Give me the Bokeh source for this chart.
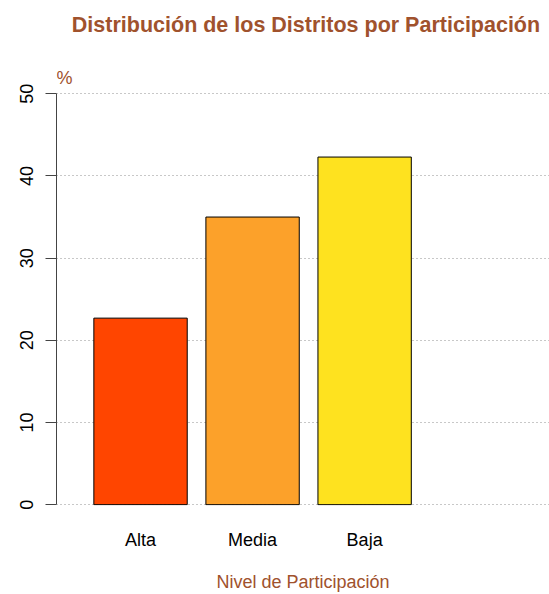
from bokeh.plotting import figure
from bokeh.models import Range1d, FixedTicker, ColumnDataSource, Label
from bokeh.embed import file_html
from bokeh.resources import INLINE

categories = ["Alta", "Media", "Baja"]
values = [22.7, 35.0, 42.3]
colors = ["#FF4500", "#FCA12A", "#FEE21F"]
y_ticks = [0, 10, 20, 30, 40, 50]

SIENNA = "#A0522D"
FONT = "Liberation Sans"

# R barplot positions: width 1, space 0.2
centers = [0.2 + i * 1.2 + 0.5 for i in range(len(categories))]

src = ColumnDataSource(dict(x=centers, top=values, color=colors, cat=categories))

# frame spans the whole top area so title texts can live inside it;
# the y axis line is bounded to 0..50
p = figure(width=549, height=594, output_backend="svg", toolbar_location=None,
           x_range=Range1d(-0.2, 5.08), y_range=Range1d(-0.1, 61.35),
           min_border_left=56, min_border_right=0, min_border_top=0, min_border_bottom=89)
p.outline_line_color = None
p.background_fill_color = "white"
p.border_fill_color = "white"

p.vbar(x="x", top="top", bottom=0, width=1.0, fill_color="color",
       line_color="black", line_width=1, source=src)

# grids
p.xgrid.grid_line_color = None
p.ygrid.ticker = FixedTicker(ticks=y_ticks)
p.ygrid.grid_line_color = "#909090"
p.ygrid.grid_line_dash = "1 3"
p.ygrid.grid_line_width = 1
p.ygrid.level = "underlay"

# y axis
p.yaxis.bounds = (y_ticks[0], y_ticks[-1])
p.yaxis.ticker = FixedTicker(ticks=y_ticks)
p.yaxis.minor_tick_line_color = None
p.yaxis.major_tick_in = 0
p.yaxis.major_tick_out = 11
p.yaxis.axis_line_color = "#444444"
p.yaxis.major_tick_line_color = "#444444"
p.yaxis.major_label_orientation = "vertical"
p.yaxis.major_label_standoff = 12
p.yaxis.major_label_text_font = FONT
p.yaxis.major_label_text_font_size = "18px"
p.yaxis.major_label_text_color = "black"

# x axis
p.xaxis.ticker = FixedTicker(ticks=centers)
p.xaxis.major_label_overrides = {c: cat for c, cat in zip(centers, categories)}
p.xaxis.axis_line_color = None
p.xaxis.major_tick_line_color = None
p.xaxis.minor_tick_line_color = None
p.xaxis.major_tick_in = 0
p.xaxis.major_tick_out = 0
p.xaxis.major_label_standoff = 24
p.xaxis.major_label_text_font = FONT
p.xaxis.major_label_text_font_size = "18px"
p.xaxis.major_label_text_color = "black"
p.xaxis.axis_label = "Nivel de Participación"
p.xaxis.axis_label_standoff = 19
p.xaxis.axis_label_text_font = FONT
p.xaxis.axis_label_text_font_size = "18px"
p.xaxis.axis_label_text_font_style = "normal"
p.xaxis.axis_label_text_color = SIENNA

# title and "%" label (inside the frame, above the 0..50 region)
main_title = Label(x=2.472, y=58.4, text="Distribución de los Distritos por Participación",
                   text_align="center", text_baseline="middle", text_font=FONT,
                   text_font_size="21.5px", text_font_style="bold", text_color=SIENNA)
p.add_layout(main_title)

pct = Label(x=-0.2, y=51.92, text="%", text_align="left", text_baseline="middle",
            text_font=FONT, text_font_size="18px", text_color=SIENNA)
p.add_layout(pct)

open("out.html", "w").write(file_html(p, INLINE))
